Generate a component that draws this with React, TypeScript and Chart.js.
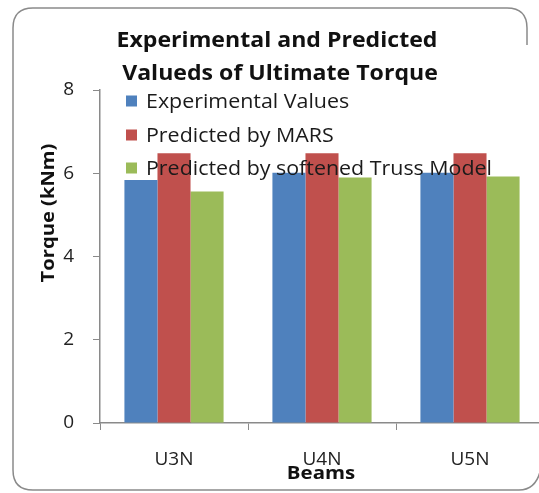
import React, { useEffect, useRef } from "react";
import { Chart, registerables } from "chart.js";
Chart.register(...registerables);

const categories = ["U3N", "U4N", "U5N"];
const experimental = [5.84, 6.01, 6.01];
const mars = [6.48, 6.48, 6.48];
const truss = [5.56, 5.9, 5.92];
const seriesNames = ["Experimental Values", "Predicted by MARS", "Predicted by softened Truss Model"];
const seriesColors = ["#4F81BD", "#C0504D", "#9BBB59"];
const titleLines = ["Experimental and Predicted", "Valueds of Ultimate Torque"];
const yTitle = "Torque (kNm)";
const xTitle = "Beams";
const yMin = 0;
const yMax = 8;
const yStep = 2;

const FONT = "'Open Sans', 'DejaVu Sans', sans-serif";

function stretchText(ctx: any, text: string, x: number, y: number, sx: number, align: string) {
  ctx.save();
  ctx.translate(x, y);
  ctx.scale(sx, 1);
  ctx.textAlign = align;
  ctx.fillText(text, 0, 0);
  ctx.restore();
}

const decor = {
  id: "decor",
  beforeDraw(chart: any) {
    const ctx = chart.ctx;
    ctx.save();
    ctx.fillStyle = "#ffffff";
    ctx.fillRect(0, 0, chart.width, chart.height);
    ctx.strokeStyle = "#8a8a8a";
    ctx.lineWidth = 1.5;
    const L = 13, T = 8, R = 527, B = 490, r = 20;
    ctx.beginPath();
    ctx.moveTo(R, 45);
    ctx.lineTo(R, T + r);
    ctx.quadraticCurveTo(R, T, R - r, T);
    ctx.lineTo(L + r, T);
    ctx.quadraticCurveTo(L, T, L, T + r);
    ctx.lineTo(L, B - r);
    ctx.quadraticCurveTo(L, B, L + r, B);
    ctx.lineTo(R - 8, B);
    ctx.quadraticCurveTo(R + 8, B, R + 13, B - r + 2);
    ctx.stroke();
    ctx.restore();
  },
  afterDatasetsDraw(chart: any) {
    const ctx = chart.ctx;
    ctx.save();
    ctx.fillStyle = "#111";
    ctx.textBaseline = "alphabetic";
    ctx.font = `bold 21px ${FONT}`;
    stretchText(ctx, titleLines[0], 277, 47, 1.1, "center");
    stretchText(ctx, titleLines[1], 280, 80, 1.1, "center");
    // x title
    ctx.font = `bold 17px ${FONT}`;
    stretchText(ctx, xTitle, 321, 479, 1.2, "center");
    // y title
    ctx.save();
    ctx.translate(54, 213);
    ctx.rotate(-Math.PI / 2);
    ctx.font = `bold 18px ${FONT}`;
    stretchText(ctx, yTitle, 0, 0, 1.12, "center");
    ctx.restore();
    // legend
    const rows = [101, 135, 168];
    chart.data.datasets.forEach((ds: any, i: number) => {
      const cy = rows[i];
      ctx.fillStyle = ds.backgroundColor;
      ctx.fillRect(126, cy - 5.5, 11, 11);
      ctx.fillStyle = "#1a1a1a";
      ctx.font = `20px ${FONT}`;
      stretchText(ctx, ds.label, 146, cy + 7, 1.07, "left");
    });
    ctx.restore();
  },
};

export default function App() {
  const ref = useRef<HTMLCanvasElement | null>(null);
  useEffect(() => {
    if (!ref.current) return;
    const chart = new Chart(ref.current, {
      type: "bar",
      data: {
        labels: categories,
        datasets: [
          { label: seriesNames[0], data: experimental, backgroundColor: seriesColors[0] },
          { label: seriesNames[1], data: mars, backgroundColor: seriesColors[1] },
          { label: seriesNames[2], data: truss, backgroundColor: seriesColors[2] },
        ],
      },
      options: {
        responsive: false,
        animation: false,
        devicePixelRatio: 1,
        layout: { padding: { top: 90, right: 12, bottom: 0, left: 0 } },
        datasets: { bar: { categoryPercentage: 0.67, barPercentage: 1 } },
        plugins: {
          legend: { display: false },
          title: { display: false },
          tooltip: { enabled: false },
        },
        scales: {
          x: {
            grid: { display: true, drawOnChartArea: false, offset: true, tickLength: 7, color: "#8a8a8a" },
            border: { display: true, color: "#8a8a8a", width: 1.5 },
            ticks: { font: { family: FONT, size: 19 }, color: "#222", padding: 18 },
            afterFit(scale: any) { scale.height = 70; },
          },
          y: {
            min: yMin,
            max: yMax,
            ticks: { stepSize: yStep, font: { family: FONT, size: 19 }, color: "#222", padding: 19 },
            grid: { display: true, drawOnChartArea: false, tickLength: 7, color: "#8a8a8a" },
            border: { display: true, color: "#8a8a8a", width: 1.5 },
            afterFit(scale: any) { scale.width = 100; },
          },
        },
      },
      plugins: [decor],
    });
    return () => chart.destroy();
  }, []);
  return (
    <div style={{ position: "absolute", left: 0, top: 0, width: 539, height: 493, overflow: "hidden" }}>
      <canvas ref={ref} width={556} height={493} style={{ display: "block" }} />
    </div>
  );
}
